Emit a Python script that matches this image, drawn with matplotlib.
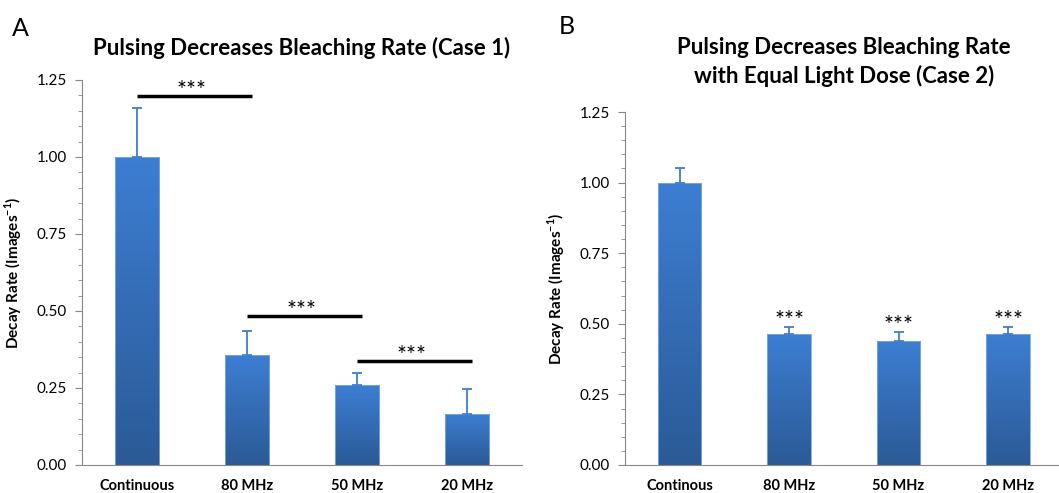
import numpy as np
import matplotlib
matplotlib.use("Agg")
import matplotlib.pyplot as plt
from matplotlib.ticker import MultipleLocator
from matplotlib.colors import LinearSegmentedColormap

plt.rcParams['font.family'] = ['Lato', 'DejaVu Sans']
plt.rcParams['mathtext.fontset'] = 'custom'
plt.rcParams['mathtext.rm'] = 'Lato'
plt.rcParams['mathtext.bf'] = 'Lato:bold'

# Data
cats_a = ['Continuous', '80 MHz', '50 MHz', '20 MHz']
vals_a = [1.00, 0.357, 0.26, 0.166]
err_a = [0.16, 0.078, 0.04, 0.082]
# significance brackets (from bar, to bar, height)
sig_a = [(0, 1, 1.198), (1, 2, 0.484), (2, 3, 0.338)]

cats_b = ['Continous', '80 MHz', '50 MHz', '20 MHz']
vals_b = [1.00, 0.463, 0.439, 0.463]
err_b = [0.053, 0.025, 0.031, 0.025]
stars_b = [1, 2, 3]

TITLE_A = 'Pulsing Decreases Bleaching Rate (Case 1)'
TITLE_B = 'Pulsing Decreases Bleaching Rate\nwith Equal Light Dose (Case 2)'
YLABEL = r'Decay Rate (Images$^{\mathbf{-1}}$)'

BAR_W = 0.4
cmap = LinearSegmentedColormap.from_list('bar', ['#2B5A96', '#3D7ED2'])
grad = np.linspace(0, 1, 256).reshape(-1, 1)


def gradient_bars(ax, vals, errs):
    x = np.arange(len(vals))
    bars = ax.bar(x, vals, width=BAR_W, color='none', edgecolor='#7FAAE0',
                  linewidth=0.6, zorder=3)
    for b in bars:
        im = ax.imshow(grad, cmap=cmap, origin='lower', aspect='auto',
                       extent=[b.get_x(), b.get_x() + b.get_width(), 0, b.get_height()],
                       zorder=2)
        im.set_clip_path(b)
    ax.errorbar(x, vals, yerr=[np.zeros(len(errs)), errs], fmt='none',
                ecolor='#3D7ED2', elinewidth=1.3, capsize=3.5, capthick=1.3, zorder=4)


def style_axis(ax, cats):
    ax.set_xlim(-0.5, len(cats) - 0.5)
    ax.set_ylim(0, 1.25)
    ax.yaxis.set_major_locator(MultipleLocator(0.25))
    ax.yaxis.set_minor_locator(MultipleLocator(0.05))
    ax.set_yticklabels([f'{v:.2f}' for v in ax.get_yticks()])
    ax.set_xticks(np.arange(len(cats)))
    ax.set_xticklabels(cats, fontweight='bold', fontsize=10.5)
    ax.tick_params(axis='x', length=0, pad=10)
    ax.tick_params(axis='y', which='major', length=5, color='#888888', labelsize=11, pad=6)
    ax.tick_params(axis='y', which='minor', length=3, color='#888888')
    for s in ['top', 'right']:
        ax.spines[s].set_visible(False)
    for s in ['left', 'bottom']:
        ax.spines[s].set_color('#888888')
    ax.set_ylabel(YLABEL, fontweight='bold', fontsize=11, labelpad=9)


fig = plt.figure(figsize=(10.59, 4.93), dpi=100)
ax_a = fig.add_axes([0.0774, 0.0568, 0.4155, 0.781])
ax_b = fig.add_axes([0.590, 0.0568, 0.4136, 0.716])

# Panel A
gradient_bars(ax_a, vals_a, err_a)
style_axis(ax_a, cats_a)
for i, j, h in sig_a:
    ax_a.plot([i, j + 0.05], [h, h], color='black', lw=2.5, solid_capstyle='butt', zorder=5)
    ax_a.text((i + j) / 2, h - 0.004, '***', ha='center', va='baseline', fontsize=17)
ax_a.set_title(TITLE_A, fontweight='bold', fontsize=16, pad=18)

# Panel B
gradient_bars(ax_b, vals_b, err_b)
style_axis(ax_b, cats_b)
for i in stars_b:
    ax_b.text(i, vals_b[i] + err_b[i] + 0.002, '***', ha='center', va='baseline', fontsize=17)
ax_b.set_title(TITLE_B, fontweight='bold', fontsize=16, pad=21, linespacing=1.4)

fig.text(0.011, 0.965, 'A', fontsize=18, va='top')
fig.text(0.528, 0.97, 'B', fontsize=18, va='top')

fig.savefig('out.png', dpi=100)
